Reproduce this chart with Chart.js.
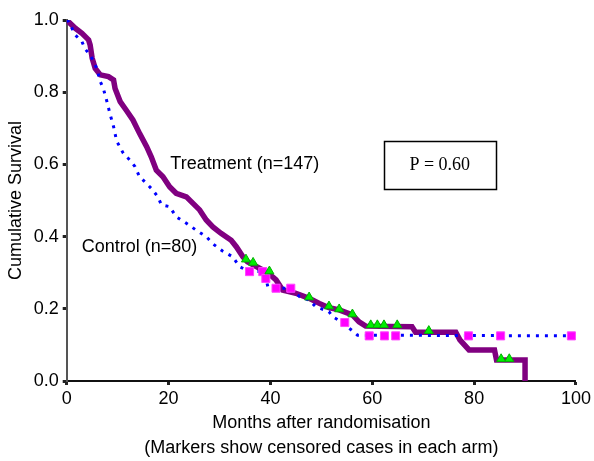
<!DOCTYPE html>
<html>
<head>
<meta charset="utf-8">
<script src="https://cdn.jsdelivr.net/npm/chart.js@4"></script>
<style>
  html, body { margin: 0; padding: 0; background: #fff; }
  #wrap { width: 594px; height: 461px; position: relative; }
</style>
</head>
<body>
<div id="wrap"><canvas id="c" width="594" height="461"></canvas></div>
<script>
// ---- Data ----
const treatmentMonths = [0, 1.7, 3.0, 4.3, 4.6, 5.0, 5.6, 6.6, 8.2, 9.2, 9.5, 10.5, 11.7, 13.0, 14.3, 15.7, 16.6, 17.6, 18.9, 20.2, 21.5, 23.5, 24.8, 26.1, 27.4, 28.7, 30.3, 32.3, 33.3, 34.6, 35.5, 37.5, 39.5, 41.1, 42.4, 45.0, 47.6, 49.6, 51.5, 53.5, 56.1, 57.4, 58.7, 67.8, 68.5, 76.4, 77.2, 79.0, 84.0, 84.4, 90.0, 90.0];
const treatmentSurvival = [1.0, 0.977, 0.963, 0.945, 0.931, 0.894, 0.866, 0.848, 0.843, 0.834, 0.81, 0.774, 0.75, 0.723, 0.686, 0.649, 0.621, 0.584, 0.566, 0.538, 0.52, 0.51, 0.492, 0.474, 0.446, 0.427, 0.409, 0.39, 0.372, 0.344, 0.33, 0.315, 0.30, 0.28, 0.252, 0.243, 0.229, 0.215, 0.203, 0.197, 0.183, 0.164, 0.152, 0.150, 0.135, 0.135, 0.114, 0.086, 0.086, 0.058, 0.058, 0.0];

const controlMonths = [0, 0.4, 1.7, 3.0, 3.6, 4.6, 5.3, 5.9, 6.6, 7.2, 7.9, 8.5, 9.2, 9.8, 11.1, 12.4, 13.4, 14.3, 15.7, 16.9, 17.9, 18.6, 20.2, 21.5, 23.5, 25.4, 27.4, 28.7, 30.6, 32.6, 33.9, 35.9, 38.5, 39.1, 39.5, 41.1, 44.0, 45.7, 47.6, 48.9, 51.5, 52.2, 54.5, 55.5, 57.1, 99.1];
const controlSurvival = [1.0, 0.995, 0.958, 0.94, 0.92, 0.903, 0.885, 0.866, 0.829, 0.81, 0.774, 0.74, 0.705, 0.665, 0.631, 0.612, 0.594, 0.566, 0.547, 0.529, 0.51, 0.488, 0.483, 0.455, 0.437, 0.418, 0.40, 0.38, 0.36, 0.344, 0.317, 0.303, 0.303, 0.284, 0.261, 0.257, 0.257, 0.234, 0.224, 0.206, 0.192, 0.178, 0.16, 0.146, 0.127, 0.125];

const treatmentCensorMonths = [35.2, 36.6, 39.8, 47.6, 51.5, 53.5, 56.1, 59.7, 61.0, 62.3, 64.9, 71.1, 85.3, 86.9];
const treatmentCensorSurvival = [0.337, 0.328, 0.304, 0.232, 0.207, 0.199, 0.185, 0.155, 0.155, 0.155, 0.155, 0.139, 0.061, 0.061];

const controlCensorMonths = [35.9, 38.5, 39.1, 41.1, 44.0, 54.6, 59.4, 62.4, 64.6, 78.9, 85.2, 99.1];
const controlCensorSurvival = [0.303, 0.303, 0.284, 0.257, 0.257, 0.162, 0.125, 0.125, 0.125, 0.125, 0.125, 0.125];

const xTicks = [0, 20, 40, 60, 80, 100];
const yTicks = [0.0, 0.2, 0.4, 0.6, 0.8, 1.0];

const seriesLabels = ['Treatment (n=147)', 'Control (n=80)'];
const pValueText = 'P = 0.60';
const xTitleLines = ['Months after randomisation', '(Markers show censored cases in each arm)'];
const yTitle = 'Cumulative Survival';

// ---- build datasets ----
const pts = (xs, ys) => xs.map((x, i) => ({ x: x, y: ys[i] }));

const FONT = "'Liberation Sans', Arial, Helvetica, sans-serif";

const annotationPlugin = {
  id: 'kmAnnotations',
  afterDatasetsDraw(chart) {
    const { ctx, scales: { x, y } } = chart;
    ctx.save();
    ctx.fillStyle = '#000';
    ctx.font = "18px " + FONT;
    ctx.textBaseline = 'middle';
    ctx.textAlign = 'left';
    ctx.fillText(seriesLabels[0], x.getPixelForValue(20.35), y.getPixelForValue(0.601));
    ctx.fillText(seriesLabels[1], x.getPixelForValue(2.94), y.getPixelForValue(0.372));
    // P-value box
    const bx1 = x.getPixelForValue(62.3), bx2 = x.getPixelForValue(84.2);
    const by1 = y.getPixelForValue(0.664), by2 = y.getPixelForValue(0.532);
    ctx.lineWidth = 1.5;
    ctx.strokeStyle = '#000';
    ctx.strokeRect(Math.round(bx1) + 0.5, Math.round(by1) + 0.5, Math.round(bx2 - bx1), Math.round(by2 - by1));
    ctx.font = "18px 'Liberation Serif', 'Times New Roman', serif";
    ctx.textAlign = 'center';
    ctx.fillText(pValueText, (bx1 + bx2) / 2, (by1 + by2) / 2);
    ctx.restore();
  }
};

new Chart(document.getElementById('c'), {
  type: 'line',
  data: {
    datasets: [
      {
        label: 'Treatment censored',
        type: 'scatter',
        data: pts(treatmentCensorMonths, treatmentCensorSurvival),
        pointStyle: 'triangle',
        pointRadius: 5.2,
        backgroundColor: '#00ee00',
        borderColor: '#00b000',
        borderWidth: 1,
        order: 0
      },
      {
        label: 'Control censored',
        type: 'scatter',
        data: pts(controlCensorMonths, controlCensorSurvival),
        pointStyle: 'rect',
        pointRadius: 5.7,
        backgroundColor: '#ff00ff',
        borderColor: '#ff44ff',
        borderWidth: 1,
        order: 0
      },
      {
        label: 'Control',
        data: pts(controlMonths, controlSurvival),
        borderColor: '#0000ff',
        borderWidth: 3,
        borderDash: [3, 6],
        borderCapStyle: 'butt',
        pointRadius: 0,
        fill: false,
        tension: 0,
        order: 1
      },
      {
        label: 'Treatment',
        data: pts(treatmentMonths, treatmentSurvival),
        borderColor: '#800080',
        borderWidth: 5.5,
        borderJoinStyle: 'miter',
        pointRadius: 0,
        fill: false,
        tension: 0,
        order: 2
      }
    ]
  },
  options: {
    responsive: false,
    animation: false,
    devicePixelRatio: 1,
    layout: { padding: { left: 0, right: 16.3, top: 20, bottom: 0 } },
    plugins: {
      legend: { display: false },
      tooltip: { enabled: false },
      title: { display: false }
    },
    scales: {
      x: {
        type: 'linear',
        min: 0,
        max: 100,
        afterBuildTicks: (s) => { s.ticks = xTicks.map(v => ({ value: v })); },
        afterFit: (s) => { s.height = 80; },
        ticks: { color: '#000', font: { family: FONT, size: 18 }, padding: 3, maxRotation: 0 },
        grid: { drawOnChartArea: false, drawTicks: true, tickLength: 4, tickWidth: 3, tickColor: '#222' },
        border: { display: true, color: '#111', width: 2 },
        title: {
          display: true,
          text: xTitleLines,
          color: '#000',
          font: { family: FONT, size: 18, lineHeight: 1.4 },
          padding: { top: 0, bottom: 0 }
        }
      },
      y: {
        type: 'linear',
        min: 0,
        max: 1,
        afterBuildTicks: (s) => { s.ticks = yTicks.map(v => ({ value: v })); },
        afterFit: (s) => { s.width = 66.7; },
        ticks: {
          color: '#000',
          font: { family: FONT, size: 18 },
          padding: 4,
          callback: (v) => Number(v).toFixed(1)
        },
        grid: { drawOnChartArea: false, drawTicks: true, tickLength: 4, tickWidth: 3, tickColor: '#222' },
        border: { display: true, color: '#555', width: 2 },
        title: {
          display: true,
          text: yTitle,
          color: '#000',
          font: { family: FONT, size: 18, lineHeight: 1.2 },
          padding: { top: 5.7, bottom: 0 }
        }
      }
    }
  },
  plugins: [annotationPlugin]
});
</script>
</body>
</html>
